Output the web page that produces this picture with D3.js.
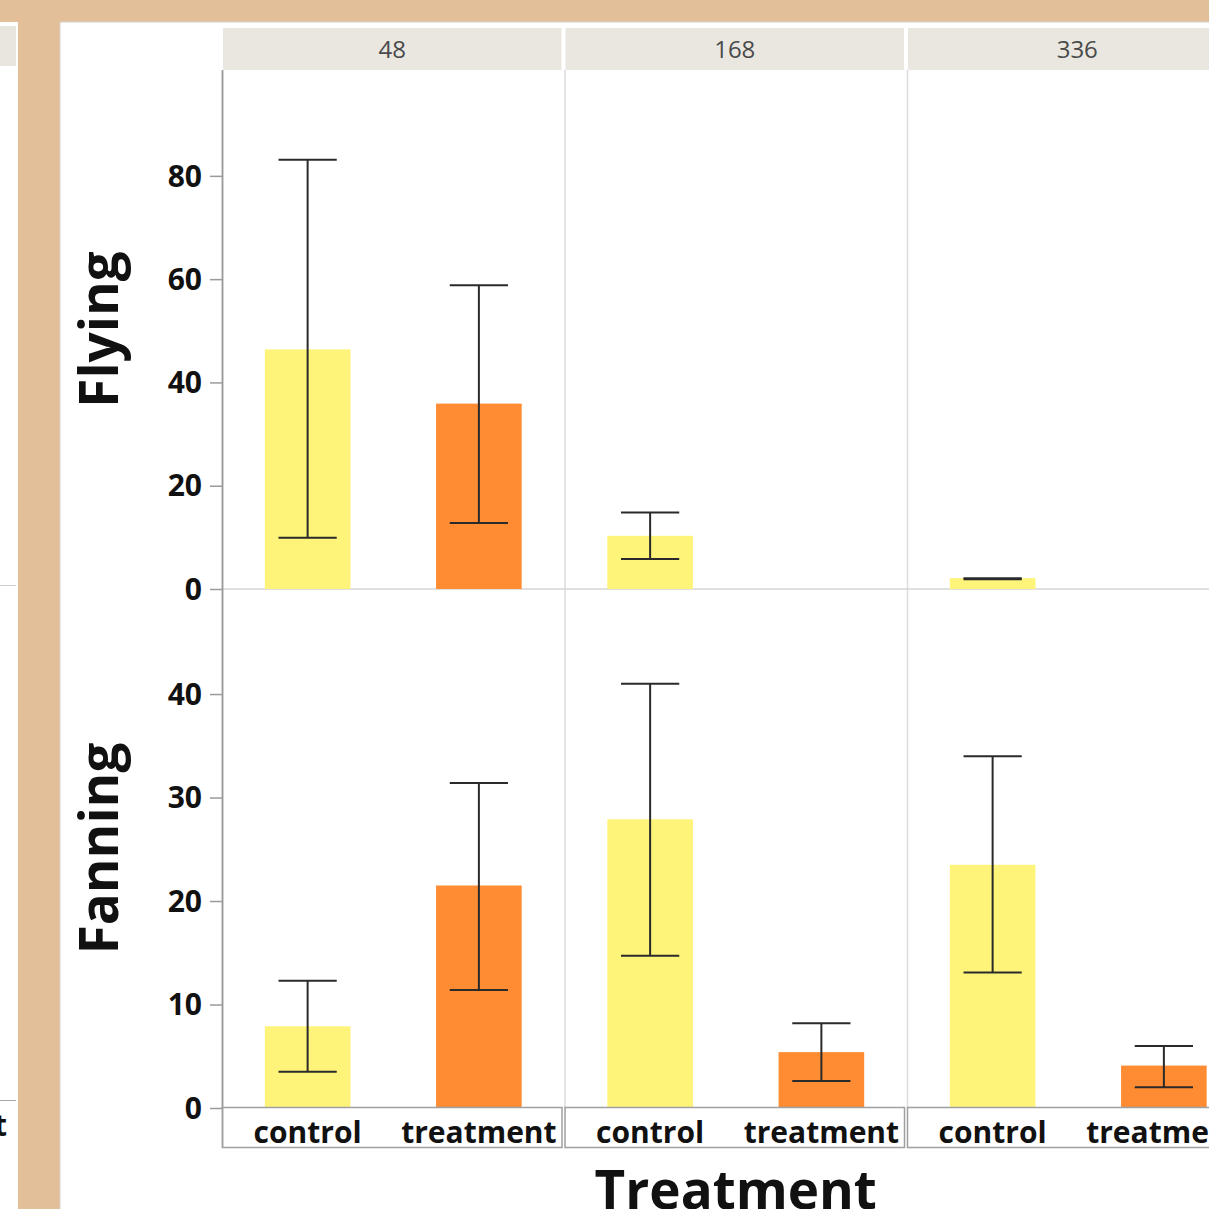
<!DOCTYPE html>
<html><head><meta charset="utf-8">
<script src="https://cdn.jsdelivr.net/npm/d3@7"></script>
<style>html,body{margin:0;padding:0;background:#e2bf98;}svg{display:block;}</style>
</head><body>
<svg id="chart" width="1209" height="1209"></svg>
<script>
// ---- data ----
const times = ["48", "168", "336"];
const groups = ["control", "treatment"];
const measures = ["Flying", "Fanning"];
// values per time column: [control, treatment]; null = no bar
const flyingMean = [[46.4, 35.9], [10.3, null], [2.1, null]];
const flyingLow  = [[9.9, 12.8], [5.8, null], [1.9, null]];
const flyingHigh = [[83.1, 58.8], [14.8, null], [2.1, null]];
const fanningMean = [[7.9, 21.5], [27.9, 5.4], [23.5, 4.1]];
const fanningLow  = [[3.5, 11.4], [14.7, 2.6], [13.1, 2.0]];
const fanningHigh = [[12.3, 31.4], [41.0, 8.2], [34.0, 6.0]];
const flyingTicks = [0, 20, 40, 60, 80];
const fanningTicks = [0, 10, 20, 30, 40];
const xTitle = "Treatment";
const groupColors = ["#fff47a", "#ff8c33"];

const svg = d3.select("#chart");
const font = "'Open Sans', 'Noto Sans', sans-serif";

// background pieces (window chrome)
svg.append("rect").attr("x", 0).attr("y", 0).attr("width", 1209).attr("height", 1209).attr("fill", "#e2bf98");
// partial left window
svg.append("rect").attr("x", 0).attr("y", 22).attr("width", 18).attr("height", 1187).attr("fill", "#ffffff");
svg.append("rect").attr("x", 0).attr("y", 26).attr("width", 16).attr("height", 40).attr("fill", "#e8e6df");
svg.append("line").attr("x1", 0).attr("x2", 16).attr("y1", 585.5).attr("y2", 585.5).attr("stroke", "#cfcfcf");
svg.append("line").attr("x1", 0).attr("x2", 16).attr("y1", 1100.5).attr("y2", 1100.5).attr("stroke", "#a8a8a8");
svg.append("text").attr("x", -6).attr("y", 1136).attr("font-family", font).attr("font-weight", 700)
  .attr("font-size", 30).attr("fill", "#111").text("t");
// main window
svg.append("rect").attr("x", 60).attr("y", 22).attr("width", 1160).attr("height", 1200).attr("fill", "#ffffff")
  .attr("stroke", "#d8d2ca").attr("stroke-width", 1);

// layout
const plotLeft = 222, colW = 342.5;
const topY0 = 70, midY = 589, botY = 1108;
const headerTop = 28, headerH = 42;

const xCol = d3.scaleBand().domain(times).range([plotLeft, plotLeft + colW * times.length]);
const xIn = d3.scaleBand().domain(groups).range([0, colW]).paddingInner(0.5).paddingOuter(0.25);
const yFly = d3.scaleLinear().domain([0, 100.5]).range([midY, topY0]);
const yFan = d3.scaleLinear().domain([0, 50.15]).range([botY, midY]);

// headers
times.forEach(t => {
  const x0 = xCol(t);
  svg.append("rect").attr("x", x0 + 1).attr("y", headerTop).attr("width", colW - 4).attr("height", headerH)
    .attr("fill", "#e9e7e0");
  svg.append("text").attr("x", x0 + colW / 2 - 1).attr("y", headerTop + 30).attr("text-anchor", "middle")
    .attr("font-family", font).attr("font-size", 24).attr("fill", "#4a4a4a").text(t);
});

// panel separators
times.forEach((t, i) => {
  if (i > 0) {
    svg.append("line").attr("x1", xCol(t) + 0.5).attr("x2", xCol(t) + 0.5).attr("y1", topY0).attr("y2", botY)
      .attr("stroke", "#dcdcdc").attr("stroke-width", 1.5);
  }
});
svg.append("line").attr("x1", plotLeft).attr("x2", 1209).attr("y1", midY).attr("y2", midY)
  .attr("stroke", "#d6d6d6").attr("stroke-width", 1.5);

// bars and error bars
function drawPanel(yScale, means, lows, highs) {
  times.forEach((t, i) => {
    groups.forEach((g, j) => {
      const m = means[i][j];
      if (m === null) return;
      const bx = xCol(t) + xIn(g);
      const bw = xIn.bandwidth();
      svg.append("rect").attr("x", bx).attr("y", yScale(m)).attr("width", bw)
        .attr("height", yScale(0) - yScale(m)).attr("fill", groupColors[j]);
      const cx = bx + bw / 2, cap = bw * 0.34;
      const lo = yScale(lows[i][j]), hi = yScale(highs[i][j]);
      const eg = svg.append("g").attr("stroke", "#2a2a2a").attr("stroke-width", 2);
      eg.append("line").attr("x1", cx).attr("x2", cx).attr("y1", lo).attr("y2", hi);
      eg.append("line").attr("x1", cx - cap).attr("x2", cx + cap).attr("y1", lo).attr("y2", lo);
      eg.append("line").attr("x1", cx - cap).attr("x2", cx + cap).attr("y1", hi).attr("y2", hi);
    });
  });
}
drawPanel(yFly, flyingMean, flyingLow, flyingHigh);
drawPanel(yFan, fanningMean, fanningLow, fanningHigh);

// y axes
function drawYAxis(yScale, ticks) {
  const g = svg.append("g").attr("transform", `translate(${plotLeft},0)`)
    .call(d3.axisLeft(yScale).tickValues(ticks).tickSize(12).tickPadding(8).tickSizeOuter(0));
  g.select(".domain").attr("stroke", "#9a9a9a").attr("stroke-width", 1.5);
  g.selectAll(".tick line").attr("stroke", "#9a9a9a").attr("stroke-width", 1.5);
  g.selectAll(".tick text").attr("font-family", font).attr("font-weight", 700).attr("font-size", 30)
    .attr("fill", "#111").attr("dy", "0.34em");
}
drawYAxis(yFly, flyingTicks);
drawYAxis(yFan, fanningTicks);
svg.append("line").attr("x1", plotLeft + 0.5).attr("x2", plotLeft + 0.5).attr("y1", topY0).attr("y2", 1148)
  .attr("stroke", "#9a9a9a").attr("stroke-width", 1.5);

// y titles
[["Flying", (topY0 + midY) / 2], ["Fanning", (midY + botY) / 2]].forEach(([m, cy]) => {
  svg.append("text").attr("transform", `translate(118,${cy}) rotate(-90)`).attr("text-anchor", "middle")
    .attr("font-family", font).attr("font-weight", 700).attr("font-size", 53).attr("fill", "#111").text(m);
});

// x axis boxes and labels
times.forEach(t => {
  const x0 = xCol(t);
  svg.append("rect").attr("x", x0 + 0.5).attr("y", botY - 0.5).attr("width", colW - 3).attr("height", 40)
    .attr("fill", "none").attr("stroke", "#a0a0a0").attr("stroke-width", 1.5);
  groups.forEach(g => {
    svg.append("text").attr("x", x0 + xIn(g) + xIn.bandwidth() / 2).attr("y", 1143).attr("text-anchor", "middle")
      .attr("font-family", font).attr("font-weight", 700).attr("font-size", 30).attr("fill", "#111").text(g);
  });
});

// x title
svg.append("text").attr("x", plotLeft + colW * 1.5).attr("y", 1209).attr("text-anchor", "middle")
  .attr("font-family", font).attr("font-weight", 700).attr("font-size", 53).attr("fill", "#111").text(xTitle);
</script>
</body></html>
